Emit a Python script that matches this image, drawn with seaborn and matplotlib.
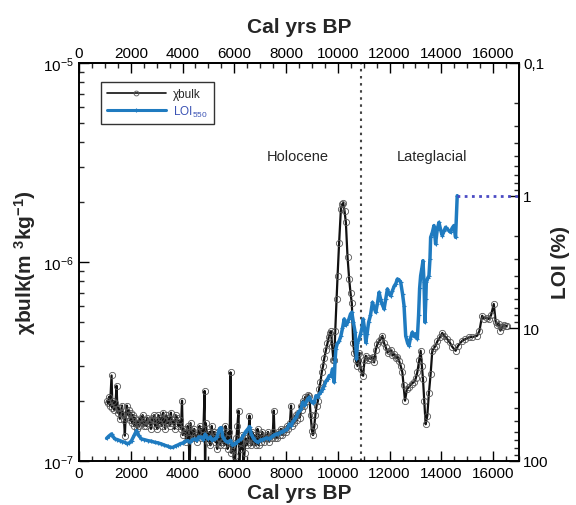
import numpy as np
import pandas as pd
import matplotlib
matplotlib.use("Agg")
import matplotlib.pyplot as plt
from matplotlib.lines import Line2D
from matplotlib.ticker import MultipleLocator, FixedLocator, FixedFormatter, LogLocator, NullFormatter
import seaborn as sns

# --- magnetic susceptibility (chi bulk), values in units of 1e-7 m3 kg-1 ---
chi_years = [
    1080, 1120, 1160, 1200, 1258, 1290, 1330, 1370, 1410, 1451, 1490, 1530, 1579, 1620,
    1660, 1700, 1740, 1772, 1800, 1850, 1890, 1930, 1970, 2010, 2050, 2090, 2130, 2170,
    2210, 2250, 2290, 2330, 2380, 2420, 2460, 2500, 2550, 2600, 2640, 2690, 2730, 2780,
    2820, 2860, 2900, 2940, 2990, 3030, 3070, 3110, 3150, 3200, 3250, 3290, 3330, 3370,
    3420, 3460, 3510, 3550, 3590, 3640, 3690, 3740, 3790, 3840, 3890, 3940, 3980, 4010,
    4050, 4100, 4150, 4200, 4240, 4276, 4310, 4360, 4400, 4450, 4500, 4560, 4610, 4660,
    4700, 4750, 4800, 4853, 4870, 4900, 4950, 5000, 5040, 5080, 5130, 5170, 5220, 5260,
    5300, 5340, 5380, 5420, 5460, 5500, 5540, 5580, 5620, 5660, 5700, 5740, 5780, 5820,
    5855, 5880, 5920, 5960, 6009, 6040, 6080, 6120, 6163, 6190, 6230, 6270, 6310, 6350,
    6395, 6440, 6480, 6530, 6587, 6620, 6660, 6700, 6740, 6780, 6820, 6860, 6900, 6940,
    6990, 7040, 7080, 7120, 7165, 7210, 7260, 7300, 7350, 7400, 7450, 7490, 7524, 7560,
    7600, 7650, 7700, 7750, 7800, 7850, 7900, 7940, 7990, 8040, 8090, 8150, 8192, 8230,
    8280, 8320, 8370, 8420, 8470, 8520, 8560, 8600, 8640, 8690, 8740, 8790, 8840, 8898,
    8950, 9000, 9040, 9090, 9130, 9180, 9230, 9280, 9330, 9380, 9430, 9480, 9540, 9600,
    9650, 9700, 9733, 9780, 9830, 9860, 9900, 9950, 9990, 10050, 10119, 10170, 10208, 10260,
    10311, 10375, 10439, 10490, 10541, 10593, 10640, 10700, 10760, 10820, 10880, 10978, 11030, 11081,
    11150, 11200, 11273, 11340, 11402, 11460, 11530, 11600, 11660, 11723, 11790, 11851, 11920, 11980,
    12050, 12110, 12173, 12250, 12300, 12365, 12430, 12493, 12540, 12596, 12670, 12750, 12850, 12943,
    13010, 13071, 13140, 13200, 13250, 13290, 13340, 13393, 13457, 13520, 13586, 13650, 13720, 13778,
    13850, 13950, 14035, 14120, 14228, 14320, 14420, 14549, 14650, 14806, 14930, 15062, 15200, 15383,
    15470, 15575, 15650, 15750, 15832, 15920, 16025, 16100, 16153, 16220, 16282, 16350, 16410, 16480,
    16539,
]
chi_values = [
    2.00, 1.95, 2.10, 1.90, 2.69, 1.85, 2.00, 1.80, 1.95, 2.39, 1.75, 1.85, 1.63, 1.75,
    1.90, 1.70, 1.60, 1.34, 1.65, 1.90, 1.70, 1.80, 1.60, 1.75, 1.55, 1.70, 1.50, 1.65,
    1.55, 1.45, 1.60, 1.50, 1.65, 1.55, 1.70, 1.50, 1.60, 1.50, 1.65, 1.55, 1.60, 1.45,
    1.65, 1.60, 1.70, 1.50, 1.60, 1.45, 1.70, 1.55, 1.65, 1.50, 1.75, 1.60, 1.45, 1.70,
    1.55, 1.65, 1.50, 1.75, 1.55, 1.60, 1.45, 1.70, 1.65, 1.50, 1.60, 1.45, 2.01, 1.35,
    1.45, 1.40, 1.25, 1.50, 1.30, 0.90, 1.55, 1.40, 1.30, 1.45, 1.35, 1.25, 1.40, 1.50,
    1.30, 1.45, 1.35, 2.25, 0.85, 1.55, 1.35, 1.25, 1.40, 1.20, 1.50, 1.30, 1.40, 1.25,
    1.35, 1.15, 1.40, 1.30, 1.20, 1.45, 1.25, 1.35, 1.20, 1.50, 1.30, 1.15, 1.40, 1.25,
    2.79, 1.10, 1.20, 1.15, 0.90, 1.06, 1.30, 1.50, 1.79, 0.92, 1.25, 1.15, 1.35, 0.95,
    1.10, 1.30, 1.20, 1.25, 1.69, 1.30, 1.20, 1.40, 1.25, 1.35, 1.20, 1.30, 1.45, 1.20,
    1.35, 1.25, 1.40, 1.30, 1.25, 1.35, 1.30, 1.40, 1.25, 1.35, 1.30, 1.40, 1.79, 1.30,
    1.35, 1.30, 1.40, 1.35, 1.45, 1.35, 1.40, 1.45, 1.40, 1.50, 1.45, 1.55, 1.90, 1.50,
    1.60, 1.56, 1.70, 1.60, 1.75, 1.65, 1.90, 1.80, 2.00, 1.90, 2.10, 2.00, 2.15, 2.13,
    1.70, 1.42, 1.35, 1.50, 1.70, 1.90, 2.00, 2.30, 2.50, 2.80, 3.00, 3.30, 3.60, 3.90,
    4.20, 4.40, 4.50, 3.80, 3.20, 3.20, 4.50, 6.50, 8.50, 12.5, 18.5, 19.5, 19.8, 18.0,
    15.8, 10.6, 8.20, 7.00, 6.20, 3.90, 3.50, 3.20, 3.00, 3.50, 2.90, 2.68, 3.20, 3.38,
    3.20, 3.30, 3.26, 3.35, 3.13, 3.60, 3.87, 4.00, 4.10, 4.26, 3.90, 3.73, 3.50, 3.58,
    3.60, 3.40, 3.45, 3.30, 3.35, 3.19, 3.00, 2.79, 2.40, 2.01, 2.30, 2.35, 2.45, 2.49,
    2.60, 2.79, 3.20, 3.58, 3.00, 2.58, 2.00, 1.53, 1.69, 2.20, 2.74, 3.58, 3.70, 3.80,
    4.00, 4.20, 4.40, 4.25, 4.10, 3.95, 3.75, 3.58, 3.80, 4.02, 4.10, 4.18, 4.20, 4.26,
    4.50, 5.37, 5.20, 5.25, 5.17, 5.40, 6.15, 5.00, 4.80, 4.90, 4.52, 4.70, 4.85, 4.75,
    4.79,
]

# --- loss on ignition at 550 degC (%) ---
loi_years = [
    1065, 1150, 1258, 1330, 1387, 1480, 1579, 1680, 1772, 1850, 1950, 2029, 2130, 2222,
    2300, 2414, 2520, 2671, 2800, 2928, 3050, 3185, 3300, 3441, 3520, 3634, 3730, 3826,
    3920, 4019, 4100, 4211, 4300, 4380, 4468, 4550, 4620, 4725, 4800, 4870, 4982, 5080,
    5150, 5238, 5330, 5430, 5496, 5560, 5640, 5752, 5850, 5930, 6009, 6100, 6180, 6266,
    6350, 6440, 6522, 6590, 6660, 6715, 6800, 6908, 7000, 7080, 7165, 7250, 7340, 7422,
    7520, 7600, 7679, 7780, 7850, 7936, 8050, 8128, 8192, 8280, 8385, 8480, 8578, 8640,
    8720, 8834, 8900, 8960, 9030, 9091, 9156, 9220, 9283, 9350, 9410, 9476, 9540, 9603,
    9669, 9730, 9796, 9830, 9860, 9890, 9925, 9980, 10050, 10119, 10180, 10246, 10300, 10375,
    10430, 10490, 10541, 10600, 10669, 10721, 10760, 10824, 10880, 10930, 10978, 11030, 11081, 11130,
    11190, 11260, 11338, 11400, 11466, 11530, 11595, 11650, 11700, 11787, 11850, 11916, 11980, 12044,
    12110, 12180, 12240, 12301, 12360, 12429, 12500, 12558, 12622, 12700, 12750, 12800, 12879, 12950,
    13010, 13071, 13120, 13160, 13200, 13250, 13290, 13330, 13367, 13400, 13419, 13470, 13521, 13560,
    13586, 13650, 13714, 13750, 13778, 13840, 13907, 13970, 14035, 14100, 14163, 14250, 14356, 14420,
    14485, 14549, 14613,
]
loi_values = [
    67.5, 65.0, 62.5, 66.0, 68.2, 69.0, 70.3, 71.5, 72.3, 74.0, 73.0, 70.3, 64.0, 59.0,
    64.0, 68.2, 69.0, 70.3, 71.0, 72.3, 73.0, 74.4, 76.0, 77.5, 78.9, 78.9, 77.0, 75.7,
    74.0, 73.1, 71.0, 70.3, 72.0, 69.0, 68.2, 70.0, 66.0, 66.3, 69.0, 63.0, 68.2, 66.0,
    70.0, 68.2, 66.0, 57.0, 56.0, 66.0, 70.0, 72.3, 70.0, 76.0, 74.4, 72.0, 70.0, 68.2,
    64.0, 60.0, 57.4, 55.0, 63.0, 66.3, 70.0, 72.3, 70.0, 69.0, 68.2, 67.0, 68.0, 66.3,
    64.0, 63.0, 62.5, 61.0, 60.0, 59.0, 57.0, 52.6, 54.2, 50.0, 46.9, 43.0, 40.5, 36.1,
    38.0, 34.1, 33.0, 35.0, 36.5, 36.1, 32.2, 33.0, 31.3, 30.0, 28.7, 27.0, 25.0, 24.1,
    22.7, 23.0, 20.2, 23.0, 25.5, 18.0, 14.3, 13.0, 12.5, 11.4, 10.0, 8.5, 9.5, 9.0,
    8.5, 7.8, 7.57, 9.0, 10.7, 17.0, 13.0, 12.0, 11.0, 10.0, 8.5, 10.0, 12.8, 11.0,
    9.0, 8.0, 6.37, 7.0, 7.57, 6.5, 5.35, 6.0, 6.5, 7.15, 6.0, 5.05, 5.5, 5.68,
    5.2, 4.8, 4.6, 4.25, 4.3, 4.5, 5.5, 6.75, 11.4, 13.0, 13.5, 12.0, 10.7, 11.5,
    11.0, 12.0, 8.0, 5.0, 4.01, 3.5, 3.09, 4.5, 9.0, 6.0, 4.5, 4.2, 4.01, 3.0,
    2.06, 1.9, 1.68, 2.0, 2.31, 1.8, 1.59, 1.8, 2.0, 1.85, 1.73, 1.8, 1.89, 1.75,
    1.68, 2.06, 1.0,
]

# LOI extrapolated to the base of the record
loi_ext_years = [14613, 17000]
loi_ext_values = [1.0, 1.0]

holocene_boundary = 10900
x_ticks = [0, 2000, 4000, 6000, 8000, 10000, 12000, 14000, 16000]
loi_ticks = [0.1, 1, 10, 100]
loi_tick_labels = ["0,1", "1", "10", "100"]

sns.set_style("ticks")
plt.rcParams["font.family"] = ["Liberation Sans", "DejaVu Sans"]
plt.rcParams["mathtext.fontset"] = "custom"
plt.rcParams["mathtext.rm"] = "Liberation Sans"
plt.rcParams["mathtext.it"] = "Liberation Sans:italic"
plt.rcParams["mathtext.bf"] = "Liberation Sans:bold"

BLACK = "#111111"
BLUE = "#1f7bc0"
DOT_BLUE = "#4b4bc4"
LABEL_BLUE = "#3a52b4"

chi_df = pd.DataFrame({"year": chi_years, "chi": np.array(chi_values) * 1e-7})
loi_df = pd.DataFrame({"year": loi_years, "loi": loi_values})
ext_df = pd.DataFrame({"year": loi_ext_years, "loi": loi_ext_values})

fig = plt.figure(figsize=(5.76, 5.06), dpi=100)
ax = fig.add_axes([79 / 576, 44 / 506, 440 / 576, 398 / 506])

sns.lineplot(data=chi_df, x="year", y="chi", ax=ax, sort=False, estimator=None,
             color=BLACK, lw=1.6, marker="o", ms=4.5, mfc="none", mec="#555555", mew=0.6)
ax.set_yscale("log")
ax.set_ylim(1e-7, 1e-5)
ax.set_xlim(0, 17000)
ax.axvline(holocene_boundary, color="#444444", lw=1.5, ls=(0, (1.2, 2.2)))

ax2 = ax.twinx()
sns.lineplot(data=loi_df, x="year", y="loi", ax=ax2, sort=False, estimator=None,
             color=BLUE, lw=2.5, marker="+", ms=3, mew=0.8, mec=BLUE)
sns.lineplot(data=ext_df, x="year", y="loi", ax=ax2, sort=False, estimator=None,
             color=DOT_BLUE, lw=2, ls=(0, (1, 1.6)))
ax2.set_yscale("log")
ax2.set_ylim(100, 0.1)
ax2.yaxis.set_major_locator(FixedLocator(loi_ticks))
ax2.yaxis.set_major_formatter(FixedFormatter(loi_tick_labels))
ax2.yaxis.set_minor_locator(LogLocator(base=10, subs=np.arange(2, 10)))
ax2.yaxis.set_minor_formatter(NullFormatter())
ax2.set_ylabel("LOI (%)", fontsize=15, fontweight="bold", labelpad=2)
ax2.set_xlim(0, 17000)

# x axes (bottom and top)
ax.xaxis.set_major_locator(FixedLocator(x_ticks))
ax.xaxis.set_minor_locator(MultipleLocator(500))
ax.set_xlabel("Cal yrs BP", fontsize=15, fontweight="bold", labelpad=2)
top = ax.secondary_xaxis("top")
top.xaxis.set_major_locator(FixedLocator(x_ticks))
top.xaxis.set_minor_locator(MultipleLocator(500))
top.set_xlabel("Cal yrs BP", fontsize=15, fontweight="bold", labelpad=10)

ax.yaxis.set_minor_locator(LogLocator(base=10, subs=np.arange(2, 10)))
ax.yaxis.set_minor_formatter(NullFormatter())
ax.set_ylabel(r"χbulk(m $^{\mathbf{3}}$kg$^{\mathbf{-1}}$)", fontsize=15,
              fontweight="bold", labelpad=4)

for a in (ax, ax2, top):
    a.tick_params(which="major", direction="in", length=7, width=1, labelsize=11,
                  colors="black")
    a.tick_params(which="minor", direction="in", length=3.5, width=1)
ax.tick_params(axis="y", which="both", right=False)
ax.tick_params(axis="x", which="both", top=False)
ax2.tick_params(axis="x", which="both", bottom=False, top=False, labelbottom=False)
ax2.tick_params(axis="y", pad=3)
top.tick_params(axis="x", pad=2)

for a in (ax, ax2):
    for s in a.spines.values():
        s.set_linewidth(1.2)
        s.set_color("black")
top.spines["top"].set_linewidth(1.2)

fig.text(298 / 576, 1 - 157 / 506, "Holocene", ha="center", va="center", fontsize=10.5)
fig.text(432 / 576, 1 - 157 / 506, "Lateglacial", ha="center", va="center", fontsize=10.5)

handles = [
    Line2D([0], [0], color=BLACK, lw=1.2, marker="o", ms=3.5, mfc="none",
           mec="#555555", mew=0.6),
    Line2D([0], [0], color=BLUE, lw=2.2, marker="+", ms=3, mew=0.8),
]
leg = ax2.legend(handles, ["χbulk", r"LOI$_{550}$"], loc="upper left",
                 bbox_to_anchor=(101 / 576, 1 - 83 / 506), bbox_transform=fig.transFigure,
                 fontsize=8.5, handlelength=5.0, frameon=True, fancybox=False,
                 borderaxespad=0, borderpad=0.5, labelspacing=0.3, handletextpad=0.6)
leg.get_frame().set_edgecolor("black")
leg.get_frame().set_linewidth(1.0)
leg.get_texts()[1].set_color(LABEL_BLUE)

fig.savefig("out.png", dpi=100)
